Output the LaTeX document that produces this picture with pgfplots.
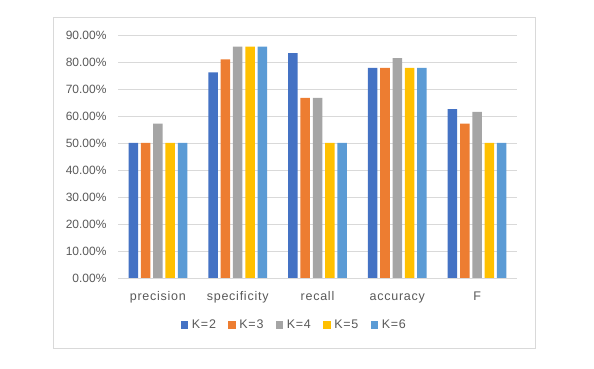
\documentclass[border=0pt]{standalone}
\usepackage{pgfplots}
\pgfplotsset{compat=1.18}
\usepackage{fontspec}
\setmainfont{Liberation Sans}
\newfontfamily\lblfont{Liberation Sans}[LetterSpace=6]

\definecolor{kA}{HTML}{4472C4}
\definecolor{kB}{HTML}{ED7D31}
\definecolor{kC}{HTML}{A5A5A5}
\definecolor{kD}{HTML}{FFC000}
\definecolor{kE}{HTML}{5B9BD5}
\definecolor{txtgray}{HTML}{595959}
\definecolor{gridgray}{HTML}{D9D9D9}

% precision, specificity, recall, accuracy, F
\pgfplotstableread{
x  k2     k3     k4     k5     k6
0  50.00  50.00  57.14  50.00  50.00
1  76.19  80.95  85.71  85.71  85.71
2  83.33  66.67  66.67  50.00  50.00
3  77.78  77.78  81.48  77.78  77.78
4  62.50  57.14  61.54  50.00  50.00
}\scores

\pgfplotsset{
  sqleg/.style={legend image code/.code={\fill[##1] (0bp,-3.7bp) rectangle (7.4bp,3.7bp);}},
}

\begin{document}
\begin{tikzpicture}
\useasboundingbox (0,0) rectangle (594bp,369bp);
\draw[gridgray, line width=0.75bp] (53bp,21bp) rectangle (535bp,352bp);
\begin{axis}[
    at={(118bp,91bp)}, anchor=south west,
    scale only axis, width=399bp, height=243bp,
    ybar=2.8bp, bar width=9.5bp,
    xmin=-0.5, xmax=4.5,
    ymin=0, ymax=90,
    ytick={0,10,...,90},
    xtick=data,
    xticklabels={precision,specificity,recall,accuracy,F},
    yticklabel={\pgfmathprintnumber[fixed,fixed zerofill,precision=2]{\tick}\%},
    /pgf/number format/assume math mode=true,
    ymajorgrids,
    major grid style={draw=gridgray, line width=0.75bp},
    axis line style={draw=none},
    major tick length=0pt,
    ticklabel style={text=txtgray, font=\fontsize{12bp}{14bp}\selectfont},
    yticklabel style={xshift=-8bp},
    xticklabel style={font=\lblfont\fontsize{12.5bp}{14bp}\selectfont, anchor=base, yshift=-22bp},
    legend style={
        at={(0.441,-0.193)}, anchor=center,
        legend columns=5, draw=none, fill=none,
        text=txtgray, font=\lblfont\fontsize{12.5bp}{14bp}\selectfont,
        nodes={inner xsep=1bp},
        /tikz/every odd column/.append style={column sep=2.5bp},
        /tikz/every even column/.append style={column sep=11.5bp},
    },
]
\addplot[fill=kA, draw=none, sqleg] table[x=x, y=k2] {\scores};
\addplot[fill=kB, draw=none, sqleg] table[x=x, y=k3] {\scores};
\addplot[fill=kC, draw=none, sqleg] table[x=x, y=k4] {\scores};
\addplot[fill=kD, draw=none, sqleg] table[x=x, y=k5] {\scores};
\addplot[fill=kE, draw=none, sqleg] table[x=x, y=k6] {\scores};
\legend{K=2,K=3,K=4,K=5,K=6}
\end{axis}
\end{tikzpicture}
\end{document}
